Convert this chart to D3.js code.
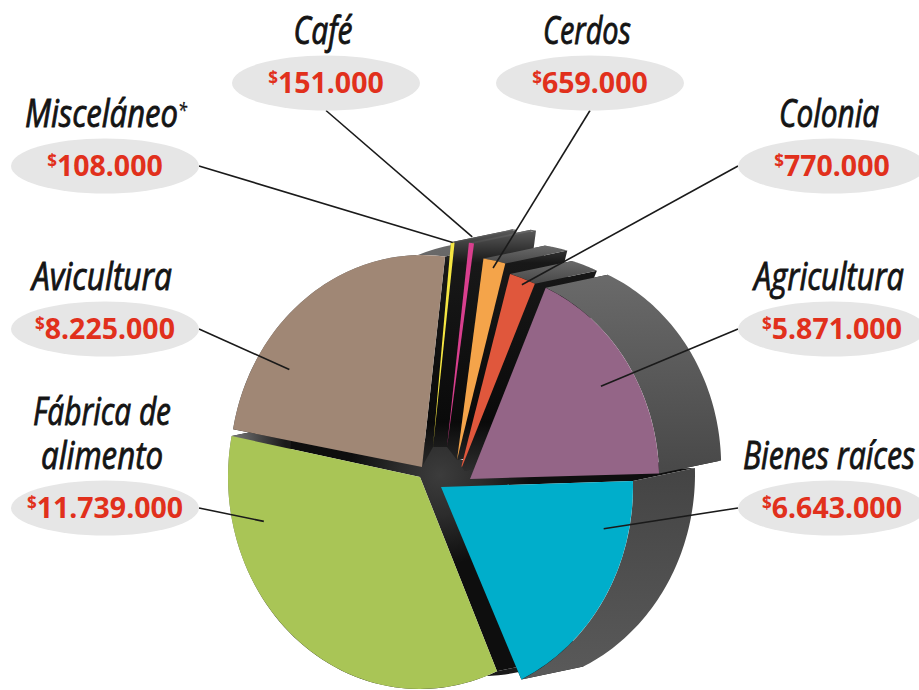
<!DOCTYPE html>
<html>
<head>
<meta charset="utf-8">
<script src="https://cdn.jsdelivr.net/npm/d3@7"></script>
<style>
  html, body { margin: 0; padding: 0; background: #fff; overflow: hidden; }
  svg { display: block; }
  .name { font-family: "Open Sans", sans-serif; font-style: italic; font-size: 38px; fill: #141414; stroke: #141414; stroke-width: .9px; text-anchor: middle; }
  .amount { font-family: "Noto Sans", "Open Sans", sans-serif; font-weight: 700; font-size: 28.5px; fill: #e1301c; text-anchor: middle; }
</style>
</head>
<body>
<div id="chart"></div>
<script>
// clockwise, starting at the Agricultura slice
let names = [["Agricultura"], ["Bienes raíces"], ["Fábrica de", "alimento"], ["Avicultura"], ["Misceláneo"], ["Café"], ["Cerdos"], ["Colonia"]];
let values = [5871000, 6643000, 11739000, 8225000, 108000, 151000, 659000, 770000];
let colors = ["#946587", "#00aecb", "#a9c556", "#a08775", "#f5e642", "#d93f8e", "#f4a44a", "#e0573c"];

// back to front
let drawOrder = [2, 3, 4, 5, 6, 7, 1, 0];

// where each exploded slice sits, the drawing is not a true pie so the angles need a small nudge
let apexX = [470, 441, 420, 422, 433, 447, 457, 460];
let apexY = [479, 487, 477, 467, 447, 447, 460, 472];
let tilt = [-0.5, 2.4, 0.4, 0.6, -0.8, -0.7, -0.8, -0.4];
let stretch = [3, -3.1, 1.1, 0, 0, 0, 0, 0];
let radius = [0.985, 1, 1, 1, 0.97, 0.97, 0.96, 0.97];

// label bubbles, leaders leave them on the given side
let bubbleX = [832, 832, 105, 105, 105, 326, 590, 832];
let bubbleY = [329, 508, 508, 329, 166, 83, 83, 166];
let leaderSideX = [-1, -1, 1, 1, 1, 0, 0, -1];
let leaderSideY = [0, 0, 0, 0, 0, 1, 1, 0];
let nameWidth = [[150], [172], [138, 122], [140], [162], [59], [88], [100]];
let nameShift = [-3, -3, -3, -3, 1, -3, -3, -3];
let leaderT = [0.52, 0.22, 0.795, 0.27, 0.5, 0.5, 0.5, 0.55];
let leaderR = [0.81, 0.87, 0.84, 0.83, 0.97, 1.0, 0.925, 0.94];

let width = 919;
let height = 690;
let rx = 192;
let ry = 212;
let depth = [62, -13];
let bubbleRx = 94;
let bubbleRy = 27.5;

let rad = d3.scaleLinear().domain([0, 360]).range([0, 2 * Math.PI]);
let formatAmount = d3.formatLocale({ decimal: ",", thousands: ".", grouping: [3], currency: ["$", ""] }).format(",d");

let slices = d3.pie().sort(null).startAngle(rad(24.1)).endAngle(rad(384.1))(values);

let svg = d3.select("#chart").append("svg").attr("width", width).attr("height", height);

let defs = svg.append("defs");
function addStops(g, stops) {
    stops.forEach(function(s) {
        g.append("stop").attr("offset", s[0]).attr("stop-color", s[1]);
    });
}
function addVertical(id, stops) {
    addStops(defs.append("linearGradient").attr("id", id).attr("x1", 0).attr("y1", 0).attr("x2", 0).attr("y2", 1), stops);
}
addVertical("band", [[0, "#6a6a6a"], [1, "#484848"]]);
addVertical("bandFront", [[0, "#444444"], [1, "#5a5a5a"]]);
// top slices: the cut faces go from grey at the rim to black
addStops(defs.append("linearGradient").attr("id", "wallTop").attr("gradientUnits", "userSpaceOnUse")
    .attr("x1", 0).attr("y1", 232).attr("x2", 0).attr("y2", 470),
    [[0, "#565656"], [0.13, "#181818"], [0.8, "#0a0a0a"], [1, "#2c2c2c"]]);
// big slices: lighter near the middle of the pie
addStops(defs.append("radialGradient").attr("id", "wallHub").attr("gradientUnits", "userSpaceOnUse")
    .attr("cx", 440).attr("cy", 475).attr("r", 90),
    [[0, "#3c3c3c"], [0.45, "#2c2c2c"], [1, "#0e0e0e"]]);
// the edge of the green slice only shows as a thin sliver at its left end
addStops(defs.append("linearGradient").attr("id", "bandBack").attr("gradientUnits", "userSpaceOnUse")
    .attr("x1", 232).attr("y1", 0).attr("x2", 285).attr("y2", 0),
    [[0, "#777777"], [1, "#1a1a1a"]]);

let wallFill = ["wallHub", "wallHub", "wallHub", "wallTop", "wallTop", "wallTop", "wallTop", "wallTop"];
let bandFill = ["band", "bandFront", "bandBack", "band", "band", "band", "band", "band"];

let line = d3.line();

function point(i, angle, r) {
    return [apexX[i] + Math.sin(angle) * rx * r, apexY[i] - Math.cos(angle) * ry * r];
}
function shifted(p) {
    return [p[0] + depth[0], p[1] + depth[1]];
}
function startOf(i) { return slices[i].startAngle + rad(tilt[i]); }
function endOf(i) { return slices[i].endAngle + rad(tilt[i] + stretch[i]); }

let unitArc = d3.arc().innerRadius(0).outerRadius(100);

function drawSlice(i) {
    let g = svg.append("g");
    let a0 = startOf(i), a1 = endOf(i), r = radius[i];
    let apex = [apexX[i], apexY[i]];

    // the two cut faces
    [a0, a1].forEach(function(a) {
        let rim = point(i, a, r);
        g.append("path")
            .attr("d", line([apex, rim, shifted(rim), shifted(apex)]) + "Z")
            .attr("fill", "url(#" + wallFill[i] + ")");
    });

    // outer edge
    let steps = d3.range(0, 61).map(function(k) { return point(i, a0 + (a1 - a0) * k / 60, r); });
    g.append("path")
        .attr("d", line(steps.concat(steps.map(shifted).reverse())) + "Z")
        .attr("fill", "url(#" + bandFill[i] + ")");

    // top face
    g.append("path")
        .attr("d", unitArc({ startAngle: a0, endAngle: a1 }))
        .attr("transform", "translate(" + apexX[i] + "," + apexY[i] + ") scale(" + (rx * r / 100) + "," + (ry * r / 100) + ")")
        .attr("fill", colors[i]);
}

drawOrder.forEach(function(i) {
    // dark hub goes in just before the two big front slices
    if (i == 1) {
        let hull = d3.polygonHull(apexX.map(function(x, k) { return [x, apexY[k]]; }));
        svg.append("path").attr("d", line(hull) + "Z").attr("fill", "url(#wallHub)");
    }
    drawSlice(i);
});

// leaders
names.forEach(function(n, i) {
    let a = startOf(i) + (endOf(i) - startOf(i)) * leaderT[i];
    let end = point(i, a, leaderR[i]);
    let from = [bubbleX[i] + leaderSideX[i] * bubbleRx, bubbleY[i] + leaderSideY[i] * bubbleRy];
    svg.append("path")
        .attr("d", line([from, end]))
        .attr("fill", "none")
        .attr("stroke", "#1a1a1a")
        .attr("stroke-width", 1.6);
});

// bubbles and texts
names.forEach(function(n, i) {
    svg.append("ellipse")
        .attr("cx", bubbleX[i]).attr("cy", bubbleY[i])
        .attr("rx", bubbleRx).attr("ry", bubbleRy)
        .attr("fill", "#e6e6e6");

    let amount = svg.append("text").attr("class", "amount")
        .attr("x", bubbleX[i]).attr("y", bubbleY[i] + 10);
    amount.append("tspan").style("font-size", "17px").attr("dy", -9).text("$");
    amount.append("tspan").attr("dy", 9).text(formatAmount(values[i]));

    n.forEach(function(t, l) {
        let label = svg.append("text").attr("class", "name");
        label.append("tspan").text(t);
        if (i == 4) {
            label.append("tspan").attr("dy", -10).style("font-size", "20px").style("stroke-width", "0.4px").text("*");
        }
        // no condensed italic installed, so squeeze the text to the width in the picture
        let squeeze = nameWidth[i][l] / label.node().getComputedTextLength();
        let y = bubbleY[i] - 39 - (n.length - 1 - l) * 44;
        label.attr("transform", "translate(" + (bubbleX[i] + nameShift[i]) + "," + y + ") scale(" + squeeze + ",1)");
    });
});
</script>
</body>
</html>
